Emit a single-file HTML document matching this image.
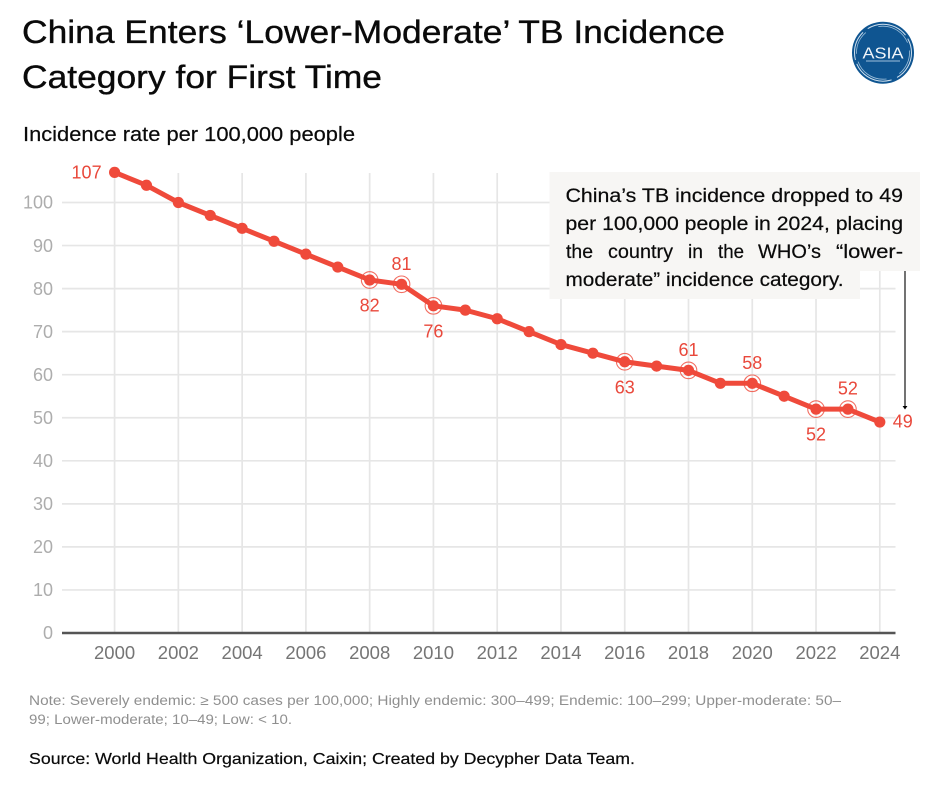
<!DOCTYPE html>
<html lang="en">
<head>
<meta charset="utf-8">
<title>China Enters 'Lower-Moderate' TB Incidence Category for First Time</title>
<style>
html,body{margin:0;padding:0;background:#fff;width:940px;height:788px;overflow:hidden}
svg{display:block}
text{font-family:"Liberation Sans",sans-serif}
.heavy{stroke:#0a0a0a;stroke-width:.35px}
.semi{stroke:#0a0a0a;stroke-width:.2px}
</style>
</head>
<body>
<svg id="chart" width="940" height="788" viewBox="0 0 940 788" xmlns="http://www.w3.org/2000/svg">
  <rect width="940" height="788" fill="#ffffff"/>
  <text class="heavy" x="22" y="43" font-size="32" fill="#0a0a0a" textLength="703" lengthAdjust="spacingAndGlyphs">China Enters ‘Lower-Moderate’ TB Incidence</text>
  <text class="heavy" x="22" y="88" font-size="32" fill="#0a0a0a" textLength="360" lengthAdjust="spacingAndGlyphs">Category for First Time</text>
  <text class="semi" x="23" y="141" font-size="20" fill="#0a0a0a" textLength="332" lengthAdjust="spacingAndGlyphs">Incidence rate per 100,000 people</text>

  <g>
    <circle cx="883" cy="52.7" r="31" fill="#0f5591"/>
    <circle cx="883" cy="52.7" r="28.5" fill="none" stroke="#cfe0ee" stroke-width="1" stroke-dasharray="30 6 42 4"/>
    <circle cx="883" cy="52.7" r="26.5" fill="none" stroke="#9fc0da" stroke-width="0.8" stroke-dasharray="24 14 36 8"/>
    <text x="883" y="58.5" font-size="15.5" fill="#f2f6fa" text-anchor="middle" textLength="41" lengthAdjust="spacingAndGlyphs">ASIA</text>
    <rect x="866" y="60.5" width="34" height="1" fill="#9fc0da"/>
  </g>

  <g id="grid"></g>
  <g id="annotation-box">
    <path d="M549.5 172H920V271H860V299H549.5Z" fill="#f7f6f4"/>
    <text class="semi" x="565.5" y="202" font-size="19" fill="#0a0a0a" textLength="337.5" lengthAdjust="spacingAndGlyphs">China’s TB incidence dropped to 49</text>
    <text class="semi" x="565.5" y="230" font-size="19" fill="#0a0a0a" textLength="337.5" lengthAdjust="spacingAndGlyphs">per 100,000 people in 2024, placing</text>
    <g font-size="19" fill="#0a0a0a">
      <text class="semi" x="566" y="258" textLength="27" lengthAdjust="spacingAndGlyphs">the</text>
      <text class="semi" x="608" y="258" textLength="65" lengthAdjust="spacingAndGlyphs">country</text>
      <text class="semi" x="688" y="258" textLength="15" lengthAdjust="spacingAndGlyphs">in</text>
      <text class="semi" x="718" y="258" textLength="26" lengthAdjust="spacingAndGlyphs">the</text>
      <text class="semi" x="758" y="258" textLength="63" lengthAdjust="spacingAndGlyphs">WHO’s</text>
      <text class="semi" x="836" y="258" textLength="67" lengthAdjust="spacingAndGlyphs">“lower-</text>
    </g>
    <text class="semi" x="565.5" y="286" font-size="19" fill="#0a0a0a" textLength="278" lengthAdjust="spacingAndGlyphs">moderate” incidence category.</text>
    <line x1="905" y1="271" x2="905" y2="406" stroke="#000" stroke-width="1.1"/>
    <path d="M902.6 406H907.4L905 409.5Z" fill="#000"/>
  </g>
  <g id="series"></g>
  <g id="labels"></g>

  <text x="29" y="705" font-size="13.5" fill="#8f8f8f" textLength="812" lengthAdjust="spacingAndGlyphs">Note: Severely endemic: ≥ 500 cases per 100,000; Highly endemic: 300–499; Endemic: 100–299; Upper-moderate: 50–</text>
  <text x="29" y="724" font-size="13.5" fill="#8f8f8f" textLength="263" lengthAdjust="spacingAndGlyphs">99; Lower-moderate; 10–49; Low: &lt; 10.</text>
  <text class="semi" x="29" y="764" font-size="16" fill="#0a0a0a" textLength="606" lengthAdjust="spacingAndGlyphs">Source: World Health Organization, Caixin; Created by Decypher  Data Team.</text>
</svg>
<script>
const years = [2000,2001,2002,2003,2004,2005,2006,2007,2008,2009,2010,2011,2012,2013,2014,2015,2016,2017,2018,2019,2020,2021,2022,2023,2024];
const incidence = [107,104,100,97,94,91,88,85,82,81,76,75,73,70,67,65,63,62,61,58,58,55,52,52,49];
const yTicks = [0,10,20,30,40,50,60,70,80,90,100];
const xTicks = [2000,2002,2004,2006,2008,2010,2012,2014,2016,2018,2020,2022,2024];
const labelsAbove = [2009,2018,2020,2023];
const labelsBelow = [2008,2010,2016,2022];
const labelLeft = [2000];
const labelRight = [2024];

const NS = 'http://www.w3.org/2000/svg';
const RED = '#ef4a3b';
const xPos = function (year) { return 114.6 + (year - 2000) * (879.8 - 114.6) / 24; };
const yPos = function (value) { return 633 - value * 4.305; };

function make(tag, parent, attrs, content) {
  const el = document.createElementNS(NS, tag);
  Object.keys(attrs).forEach(function (k) { el.setAttribute(k, attrs[k]); });
  if (content !== undefined) el.textContent = content;
  parent.appendChild(el);
  return el;
}

const grid = document.getElementById('grid');
yTicks.forEach(function (t) {
  if (t !== 0) {
    const h = make('line', grid, {x1: 62, x2: 895.5, y1: yPos(t), y2: yPos(t), stroke: '#e6e6e6', 'stroke-width': 1.7});
    
    
  }
  const lab = make('text', grid, {x: 53, y: yPos(t) + 6.2, 'font-size': 18, fill: '#adadad', 'text-anchor': 'end'}, String(t));
  
  
});
xTicks.forEach(function (t) {
  const v = make('line', grid, {x1: xPos(t), x2: xPos(t), y1: 173, y2: 633, stroke: '#e6e6e6', 'stroke-width': 1.7});
  
  
  const lab = make('text', grid, {x: xPos(t), y: 659, 'font-size': 18.5, fill: '#757575', 'text-anchor': 'middle'}, String(t));
  
  
});
const axis = make('line', grid, {x1: 62, x2: 895.5, y1: 633, y2: 633, stroke: '#555555', 'stroke-width': 2.4});



const series = document.getElementById('series');
const pts = years.map(function (yr, i) { return xPos(yr) + ',' + yPos(incidence[i]); }).join(' ');
const line = make('polyline', series, {points: pts, fill: 'none', stroke: RED, 'stroke-width': 5, 'stroke-linejoin': 'round'});



years.forEach(function (yr, i) {
  const cx = xPos(yr), cy = yPos(incidence[i]);
  const dot = make('circle', series, {cx: cx, cy: cy, r: 5.6, fill: RED});
  
  
  if (labelsAbove.indexOf(yr) >= 0 || labelsBelow.indexOf(yr) >= 0) {
    const ring = make('circle', series, {cx: cx, cy: cy, r: 8.3, fill: 'none', stroke: RED, 'stroke-width': 1.1, 'stroke-opacity': 0.8});
    
    
  }
});

const labels = document.getElementById('labels');
years.forEach(function (yr, i) {
  const cx = xPos(yr), cy = yPos(incidence[i]);
  let a = null;
  if (labelsAbove.indexOf(yr) >= 0) a = {x: cx, y: cy - 14.5, 'text-anchor': 'middle'};
  else if (labelsBelow.indexOf(yr) >= 0) a = {x: cx, y: cy + 31.5, 'text-anchor': 'middle'};
  else if (labelLeft.indexOf(yr) >= 0) a = {x: cx - 13, y: cy + 6, 'text-anchor': 'end'};
  else if (labelRight.indexOf(yr) >= 0) a = {x: cx + 13, y: cy + 5.5, 'text-anchor': 'start'};
  if (!a) return;
  a['font-size'] = 18;
  a.fill = '#e9483b';
  const t = make('text', labels, a, String(incidence[i]));
  
  
});
</script>
</body>
</html>
